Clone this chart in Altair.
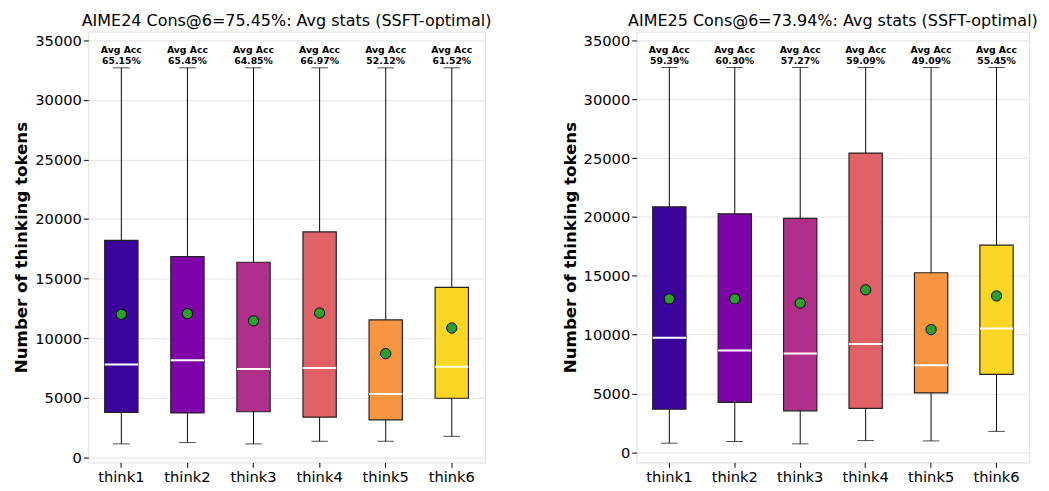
import altair as alt
import pandas as pd

cats = ["think1", "think2", "think3", "think4", "think5", "think6"]
colors = ["#3b049a", "#7e03a8", "#b12f8c", "#e06166", "#f89540", "#fbd624"]

# AIME24
acc_24 = ["65.15%", "65.45%", "64.85%", "66.97%", "52.12%", "61.52%"]
low_24 = [1120, 1230, 1120, 1340, 1340, 1750]
q1_24 = [3770, 3720, 3820, 3360, 3140, 4950]
med_24 = [7790, 8150, 7410, 7490, 5300, 7600]
mean_24 = [12000, 12060, 11450, 12110, 8700, 10850]
q3_24 = [18210, 16840, 16370, 18920, 11530, 14270]
high_24 = [32700, 32700, 32700, 32700, 32700, 32700]

# AIME25
acc_25 = ["59.39%", "60.30%", "57.27%", "59.09%", "49.09%", "55.45%"]
low_25 = [780, 920, 720, 1000, 970, 1780]
q1_25 = [3660, 4240, 3530, 3740, 5050, 6630]
med_25 = [9730, 8650, 8400, 9210, 7400, 10520]
mean_25 = [13040, 13040, 12680, 13810, 10430, 13290]
q3_25 = [20860, 20270, 19880, 25430, 15260, 17610]
high_25 = [32700, 32700, 32700, 32700, 32700, 32700]

titles = ["AIME24 Cons@6=75.45%: Avg stats (SSFT-optimal)",
          "AIME25 Cons@6=73.94%: Avg stats (SSFT-optimal)"]
domains = [[-440, 35740], [-860, 35750]]
ANNOT_Y = 33720
FONT = "DejaVu Sans"


def panel(title, acc, low, q1, med, mean, q3, high, domain, width):
    df = pd.DataFrame({
        "think": cats, "acc": acc, "low": low, "q1": q1, "med": med,
        "mean": mean, "q3": q3, "high": high,
    })
    x = alt.X("think:N", sort=cats, title=None,
              scale=alt.Scale(paddingInner=0, paddingOuter=0),
              axis=alt.Axis(labelAngle=0, labelFontSize=15, labelFont=FONT,
                            labelColor="black", tickColor="black", tickSize=5,
                            domain=False, grid=False, labelPadding=2))
    yscale = alt.Scale(domain=domain, nice=False, zero=False)
    yaxis = alt.Axis(values=[0, 5000, 10000, 15000, 20000, 25000, 30000, 35000],
                     labelFontSize=15, labelFont=FONT, labelColor="black",
                     tickColor="black", tickSize=5, domain=False,
                     grid=True, gridColor="#e8e8e8", gridWidth=1.2,
                     title="Number of thinking tokens", titleFont=FONT,
                     titleFontSize=17, titleFontWeight="bold", titleColor="black",
                     titlePadding=4, labelPadding=2, format="d")
    base = alt.Chart(df).encode(x=x)
    color = alt.Color("think:N", scale=alt.Scale(domain=cats, range=colors), legend=None)

    whisk = base.mark_rule(color="black", strokeWidth=1).encode(
        y=alt.Y("low:Q", scale=yscale, axis=yaxis), y2="high:Q")
    cap_lo = base.mark_tick(color="black", size=17, thickness=1).encode(
        y=alt.Y("low:Q", scale=yscale))
    cap_hi = base.mark_tick(color="black", size=17, thickness=1).encode(
        y=alt.Y("high:Q", scale=yscale))
    box = base.mark_bar(size=34, stroke="#222222", strokeWidth=1.2).encode(
        y=alt.Y("q1:Q", scale=yscale), y2="q3:Q", color=color)
    median = base.mark_tick(color="white", size=34, thickness=2, opacity=1).encode(
        y=alt.Y("med:Q", scale=yscale))
    meanpt = base.mark_point(shape="circle", filled=True, fill="#2ca02c",
                             stroke="black", strokeWidth=1, size=110, opacity=1).encode(
        y=alt.Y("mean:Q", scale=yscale))
    t1 = base.mark_text(text="Avg Acc", font=FONT, fontSize=9.5, fontWeight="bold",
                        color="black", dy=-5.5, baseline="middle").encode(
        y=alt.Y(datum=ANNOT_Y, scale=yscale))
    t2 = base.mark_text(font=FONT, fontSize=9.5, fontWeight="bold",
                        color="black", dy=5.5, baseline="middle").encode(
        y=alt.Y(datum=ANNOT_Y, scale=yscale), text="acc:N")

    return alt.layer(whisk, cap_lo, cap_hi, box, median, meanpt, t1, t2).properties(
        width=width, height=440,
        title=alt.TitleParams(title, font=FONT, fontSize=16.3, fontWeight="normal",
                              color="black", anchor="middle", offset=2))


left = panel(titles[0], acc_24, low_24, q1_24, med_24, mean_24, q3_24, high_24, domains[0], 405)
right = panel(titles[1], acc_25, low_25, q1_25, med_25, mean_25, q3_25, high_25, domains[1], 401)

chart = alt.hconcat(left, right, spacing=69).properties(
    padding={"left": 4, "top": 0, "right": 2, "bottom": 0}
).configure_view(stroke="#555555", strokeWidth=1.2).configure(background="white")

chart.save("out.html", embed_options={"renderer": "svg", "actions": False})
